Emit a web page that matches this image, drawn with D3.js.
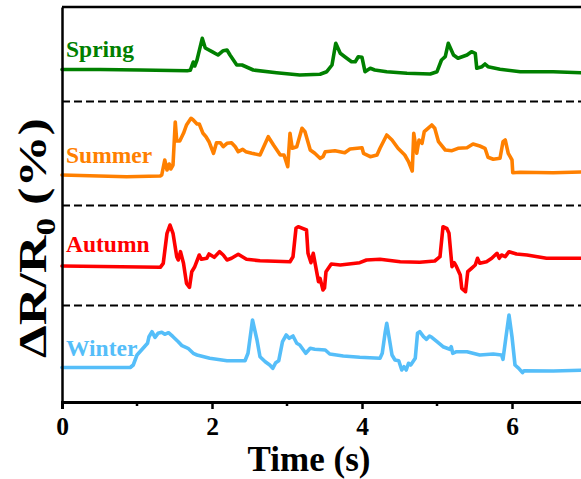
<!DOCTYPE html>
<html>
<head>
<meta charset="utf-8">
<script src="https://cdn.jsdelivr.net/npm/d3@7"></script>
<style>
  html, body { margin: 0; padding: 0; background: #fff; }
  svg { display: block; }
  svg text { font-family: "Liberation Serif", "Times New Roman", serif; font-weight: bold; }
</style>
</head>
<body>
<svg id="chart" width="581" height="479"></svg>
<script>
// Seasons, stacked top to bottom, each with its own vertical offset (ΔR/R0, %)
const seasons = ["Spring", "Summer", "Autumn", "Winter"];
const colors = ["#008000", "#ff8000", "#ff0000", "#55bef9"];
const offsets = [66.5, 45.4, 27.2, 6.9];
const separators = [60.1, 39.3, 19.3];
const xTicks = [0, 2, 4, 6];
const xMinorTicks = [1, 3, 5];

// Time (s) and response (ΔR/R0, %) relative to each baseline
const springTime = [0, 0.51, 1.04, 1.67, 1.71, 1.75, 1.77, 1.80, 1.87, 1.91, 2.0, 2.08, 2.15, 2.2, 2.24, 2.33, 2.4, 2.55, 2.86, 3.17, 3.44, 3.53, 3.6, 3.65, 3.71, 3.77, 3.86, 3.91, 3.95, 4.0, 4.04, 4.11, 4.17, 4.33, 4.6, 4.91, 5.0, 5.06, 5.11, 5.15, 5.22, 5.28, 5.4, 5.46, 5.51, 5.53, 5.6, 5.64, 5.68, 5.84, 6.11, 6.55, 6.92];
const springValue = [0.0, 0.0, -0.1, -0.24, -0.16, 1.5, 0.7, 1.9, 6.24, 4.3, 3.56, 2.9, 3.76, 3.9, 2.9, 0.9, 0.9, -0.1, -0.64, -1.1, -0.96, -0.44, 0.9, 5.24, 3.24, 2.56, 1.56, 1.56, 2.56, 2.44, -0.44, 0.24, -0.1, -0.44, -0.76, -0.9, -0.44, 1.9, 2.56, 5.24, 2.9, 2.24, 2.9, 3.56, 3.24, 0.24, 0.56, 1.1, 0.56, 0.04, -0.44, -0.44, -0.64];

const summerTime = [0, 0.86, 1.31, 1.33, 1.37, 1.4, 1.43, 1.45, 1.48, 1.51, 1.53, 1.57, 1.62, 1.66, 1.72, 1.75, 1.8, 1.83, 1.88, 1.92, 1.96, 2.02, 2.06, 2.11, 2.15, 2.2, 2.26, 2.31, 2.35, 2.41, 2.45, 2.53, 2.64, 2.75, 2.82, 2.91, 2.96, 3.01, 3.04, 3.07, 3.13, 3.2, 3.24, 3.31, 3.37, 3.44, 3.48, 3.51, 3.64, 3.77, 3.84, 4.0, 4.02, 4.11, 4.2, 4.24, 4.33, 4.4, 4.48, 4.57, 4.62, 4.67, 4.69, 4.73, 4.76, 4.8, 4.83, 4.88, 4.93, 4.97, 5.02, 5.11, 5.2, 5.28, 5.4, 5.48, 5.57, 5.64, 5.68, 5.75, 5.84, 5.88, 5.91, 5.95, 6.0, 6.01, 6.11, 6.55, 6.92];
const summerValue = [0, -0.34, -0.2, 0, 3.0, 1.0, 2.2, 1.2, 2.0, 10.6, 6.8, 6.8, 8.34, 10.0, 11.34, 11.0, 10.2, 10.2, 8.34, 7.66, 6.66, 4.34, 6.46, 6.46, 5.66, 6.34, 6.46, 5.66, 4.66, 5.14, 4.66, 4.34, 4.0, 7.66, 6.0, 4.0, 4.0, 1.66, 8.34, 5.34, 5.66, 9.34, 8.66, 5.0, 4.34, 3.34, 3.66, 4.66, 4.86, 4.46, 5.2, 5.46, 4.34, 3.66, 4.0, 5.34, 8.0, 7.0, 5.34, 4.0, 2.66, 0.8, 8.34, 4.34, 7.0, 6.34, 8.66, 9.34, 10.0, 9.34, 6.66, 5.0, 4.86, 5.34, 5.46, 6.2, 5.8, 5.34, 3.54, 3.14, 3.34, 6.66, 7.0, 4.34, 3.0, 0.46, 0.54, 0.46, 0.6];

const autumnTime = [0, 1.31, 1.35, 1.4, 1.44, 1.48, 1.53, 1.55, 1.58, 1.62, 1.66, 1.7, 1.73, 1.77, 1.83, 1.86, 1.93, 1.96, 2.03, 2.1, 2.15, 2.2, 2.26, 2.35, 2.46, 2.64, 3.04, 3.08, 3.12, 3.15, 3.26, 3.28, 3.32, 3.35, 3.42, 3.44, 3.48, 3.5, 3.52, 3.59, 3.71, 3.97, 4.06, 4.24, 4.51, 4.77, 4.97, 5.04, 5.08, 5.13, 5.16, 5.2, 5.23, 5.26, 5.31, 5.33, 5.38, 5.41, 5.46, 5.51, 5.54, 5.57, 5.66, 5.73, 5.8, 5.83, 5.86, 5.91, 5.96, 6.06, 6.2, 6.46, 6.92];
const autumnValue = [0, -0.26, 0.54, 6.54, 8.2, 6.54, 1.86, 1.2, 2.86, 0.54, -3.46, -4.26, -1.14, -0.14, 2.2, 1.34, 1.54, 2.4, 1.74, 2.86, 2.2, 1.2, 1.54, 2.34, 1.34, 1.06, 0.86, 1.86, 7.54, 7.86, 7.2, 2.54, 0.66, 2.54, -3.14, -2.46, -4.8, -4.4, -1.14, 0.4, 0.2, 0.66, 1.2, 1.34, 0.86, 0.74, 1.0, 1.86, 7.86, 7.54, 6.54, -0.14, 0.66, -0.14, -1.8, -4.46, -5.14, -1.14, -0.46, 0.2, 1.54, 0.54, 0.86, 1.54, 2.54, 1.54, 2.2, 1.86, 2.86, 2.4, 2.2, 1.54, 1.54];

const winterTime = [0, 0.91, 0.95, 1.0, 1.06, 1.14, 1.16, 1.2, 1.24, 1.28, 1.33, 1.37, 1.42, 1.48, 1.55, 1.6, 1.68, 1.75, 1.8, 1.97, 2.2, 2.44, 2.48, 2.54, 2.6, 2.64, 2.71, 2.77, 2.81, 2.85, 2.89, 2.94, 2.99, 3.03, 3.08, 3.13, 3.17, 3.25, 3.31, 3.37, 3.51, 3.57, 3.75, 3.97, 4.24, 4.27, 4.31, 4.33, 4.36, 4.4, 4.44, 4.49, 4.53, 4.56, 4.59, 4.62, 4.65, 4.71, 4.74, 4.77, 4.82, 4.86, 4.9, 4.93, 5.0, 5.08, 5.17, 5.19, 5.21, 5.26, 5.4, 5.57, 5.75, 5.86, 5.88, 5.92, 5.96, 6.0, 6.04, 6.09, 6.14, 6.16, 6.55, 6.92];
const winterValue = [0, 0, 0.5, 2.5, 3.5, 4.84, 6.16, 7.16, 6.04, 6.84, 7.04, 6.64, 6.96, 6.16, 5.16, 4.36, 3.84, 2.84, 2.5, 1.84, 1.36, 1.36, 2.84, 9.5, 5.5, 2.16, 1.16, 0.5, -0.16, 0.96, 1.36, 5.16, 6.5, 5.84, 6.3, 4.84, 4.5, 2.84, 3.84, 3.64, 3.5, 2.7, 2.3, 2.04, 1.84, 2.84, 7.16, 8.84, 6.16, 2.5, 1.5, 1.36, -0.5, 0.16, -0.5, 0.84, 0.5, 1.84, 6.84, 7.16, 6.16, 5.64, 6.3, 6.04, 5.16, 4.16, 3.64, 4.16, 2.84, 3.16, 3.16, 2.5, 2.7, 2.5, 1.64, 6.16, 10.5, 6.16, 0.5, -0.16, -1.04, -0.64, -0.7, -0.56];

const seriesTime = [springTime, summerTime, autumnTime, winterTime];
const seriesValue = [springValue, summerValue, autumnValue, winterValue];

const svg = d3.select("#chart");
const x = d3.scaleLinear().domain([0, 7]).range([62, 587]);
const y = d3.scaleLinear().domain([0, 79]).range([402, 7]);

// frame line along the top
svg.append("line")
  .attr("x1", x(0)).attr("x2", 581)
  .attr("y1", y(79)).attr("y2", y(79))
  .attr("stroke", "#000").attr("stroke-width", 2.5);

// dashed separators between seasons
svg.append("g").selectAll("line").data(separators).join("line")
  .attr("x1", x(0)).attr("x2", 581)
  .attr("y1", d => y(d)).attr("y2", d => y(d))
  .attr("stroke", "#000").attr("stroke-width", 2)
  .attr("stroke-dasharray", "8,4");

// traces
const line = d3.line().x(d => x(d[0])).y(d => y(d[1]));
seasons.forEach((name, i) => {
  const pts = seriesTime[i].map((t, k) => [t, offsets[i] + seriesValue[i][k]]);
  svg.append("path")
    .datum(pts)
    .attr("d", line)
    .attr("fill", "none")
    .attr("stroke", colors[i])
    .attr("stroke-width", 3.6)
    .attr("stroke-linejoin", "round")
    .attr("stroke-linecap", "round");
});

// season names
const labelY = [56.7, 162.7, 251.7, 356];
svg.append("g").selectAll("text").data(seasons).join("text")
  .attr("x", 66)
  .attr("y", (d, i) => labelY[i])
  .attr("fill", (d, i) => colors[i])
  .style("font-size", "23.5px")
  .text(d => d);

// left axis (no ticks)
const yAxis = svg.append("g")
  .attr("transform", `translate(${x(0)},0)`)
  .call(d3.axisLeft(y).tickValues([]).tickSizeOuter(0));
yAxis.select(".domain").attr("stroke-width", 2.5);

// bottom axis with major and minor ticks
const xAxis = svg.append("g")
  .attr("transform", `translate(0,${y(0)})`)
  .call(d3.axisBottom(x).tickValues(xTicks).tickFormat(d3.format("d"))
    .tickSizeOuter(0).tickSize(7).tickPadding(8));
xAxis.select(".domain").attr("stroke-width", 3);
xAxis.selectAll(".tick line").attr("stroke-width", 2.5);
xAxis.selectAll(".tick text")
  .style("font-size", "25.5px")
  .style("font-family", "'Liberation Serif', 'Times New Roman', serif")
  .style("font-weight", "bold")
  .attr("fill", "#000");

svg.append("g").selectAll("line").data(xMinorTicks).join("line")
  .attr("x1", d => x(d)).attr("x2", d => x(d))
  .attr("y1", y(0)).attr("y2", y(0) + 4)
  .attr("stroke", "#000").attr("stroke-width", 2.5);

// axis titles
svg.append("text")
  .attr("x", 309).attr("y", 471)
  .attr("text-anchor", "middle")
  .style("font-size", "35px")
  .text("Time (s)");

const yTitle = svg.append("text")
  .attr("transform", "translate(46,238) rotate(-90)")
  .attr("text-anchor", "middle")
  .style("font-size", "40px")
  .attr("textLength", 240)
  .attr("lengthAdjust", "spacingAndGlyphs");
yTitle.append("tspan").text("ΔR/R");
yTitle.append("tspan").style("font-size", "27px").attr("dy", 9).text("0");
yTitle.append("tspan").attr("dy", -9).text(" (%)");
</script>
</body>
</html>
